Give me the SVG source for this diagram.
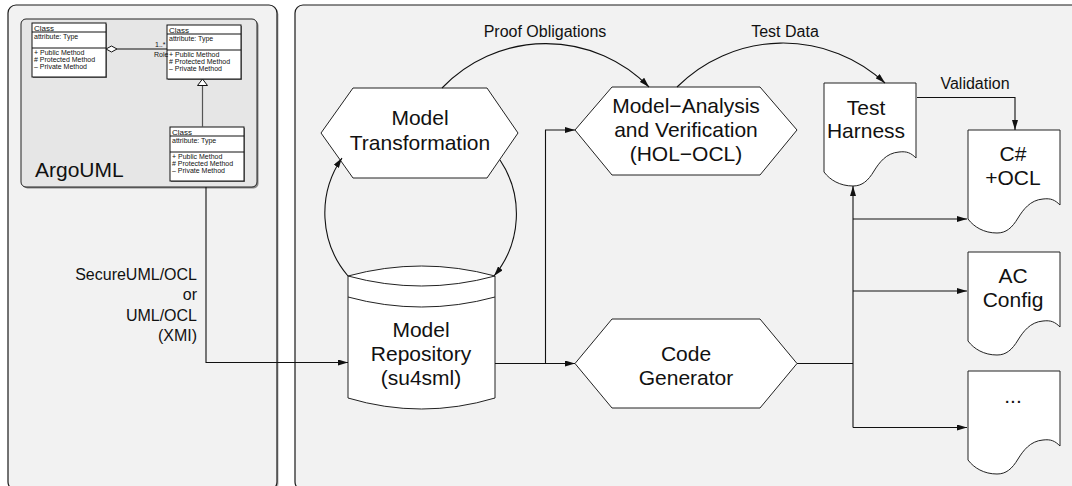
<svg xmlns="http://www.w3.org/2000/svg" width="1072" height="486" viewBox="0 0 1072 486">
<style>
text{font-family:"Liberation Sans",Arial,sans-serif;fill:#111}
.panel{fill:#f2f2f2;stroke:#1a1a1a;stroke-width:1.2}
.shadow{fill:#b0b0b0}
.node{fill:#fff;stroke:#222;stroke-width:1}
.lbl{font-size:21px;text-anchor:middle}
.el{font-size:16px;text-anchor:middle}
.con{fill:none;stroke:#111;stroke-width:1.1}
.uml{fill:#fff;stroke:#111;stroke-width:1}
.ut{font-size:8px}
.us{font-size:7px}
</style>
<defs>
<marker id="arr" viewBox="0 0 10 6" refX="10" refY="3" markerWidth="10" markerHeight="6" markerUnits="userSpaceOnUse" orient="auto">
<path d="M0,0 L10,3 L0,6 Z" fill="#111"/>
</marker>
<path id="doc" d="M0,0 H92 V75 C87,70 83,68 75,69 C62,70 55,80 50,88 C44,98 38,103 29,103 C16,103 6,97 0,89 Z"/>
<g id="umlclass">
<rect x="1" y="1" width="74" height="54" fill="#777"/>
<rect class="uml" x="0" y="0" width="74" height="54"/>
<line x1="0" y1="9" x2="74" y2="9" stroke="#111"/>
<line x1="0" y1="25" x2="74" y2="25" stroke="#111"/>
<text class="ut" x="2" y="7.5">Class</text>
<text class="us" x="2" y="16">attribute: Type</text>
<text class="us" x="2" y="31.5">+ Public Method</text>
<text class="us" x="2" y="38.5"># Protected Method</text>
<text class="us" x="2" y="45.5">– Private Method</text>
</g>
</defs>

<rect width="1072" height="486" fill="#fff"/>

<g id="left-panel">
<rect class="shadow" x="9.5" y="6.5" width="269" height="485" rx="8"/>
<rect class="panel" x="8" y="5" width="269" height="485" rx="8"/>
</g>
<g id="right-panel">
<rect class="shadow" x="296.5" y="6.5" width="790" height="485" rx="8"/>
<rect class="panel" x="295" y="5" width="790" height="485" rx="8"/>
</g>

<g id="argouml">
<rect x="22.5" y="20.5" width="236" height="168" rx="5" fill="#888"/>
<rect x="21" y="19" width="236" height="168" rx="5" fill="#e6e6e6" stroke="#222" stroke-width="1"/>
<use href="#umlclass" x="32" y="23"/>
<use href="#umlclass" x="167" y="25"/>
<use href="#umlclass" x="170" y="127"/>
<line x1="117" y1="49" x2="167" y2="49" stroke="#111"/>
<path d="M106,49 L111.5,46 L117,49 L111.5,52 Z" fill="#fff" stroke="#111"/>
<text class="us" x="155" y="47">1..*</text>
<text class="us" x="154" y="57">Role</text>
<line x1="202.5" y1="85" x2="202.5" y2="127" stroke="#555" stroke-width="1.2"/>
<path d="M202.5,79 L207.5,85.5 L197.5,85.5 Z" fill="#fff" stroke="#111"/>
<text x="35" y="177" font-size="21">ArgoUML</text>
</g>

<g id="model-transformation">
<polygon class="node" points="321,133 353,88 487,88 518,133 487,178 353,178"/>
<text class="lbl" x="420" y="125">Model</text>
<text class="lbl" x="420" y="150">Transformation</text>
</g>

<g id="model-analysis">
<polygon class="node" points="575,130 612,87 760,87 797,130 760,175 612,175"/>
<text class="lbl" x="686" y="113">Model−Analysis</text>
<text class="lbl" x="686" y="137">and Verification</text>
<text class="lbl" x="686" y="161">(HOL−OCL)</text>
</g>

<g id="code-generator">
<polygon class="node" points="575,363.5 612,319 760,319 797,363.5 760,408 612,408"/>
<text class="lbl" x="686" y="361">Code</text>
<text class="lbl" x="686" y="385">Generator</text>
</g>

<g id="model-repository">
<path class="node" d="M348,276 V398 Q421.5,420 495,398 V276 Q421.5,256 348,276 Z"/>
<path fill="none" stroke="#222" d="M348,276 Q421.5,296 495,276"/>
<path fill="none" stroke="#222" d="M348,297 Q421.5,317 495,297"/>
<text class="lbl" x="421" y="337">Model</text>
<text class="lbl" x="421" y="361">Repository</text>
<text class="lbl" x="421" y="385">(su4sml)</text>
</g>

<g id="test-harness">
<use href="#doc" x="824" y="83" class="node"/>
<text class="lbl" x="866" y="115">Test</text>
<text class="lbl" x="866" y="138">Harness</text>
</g>

<g id="csharp-ocl">
<use href="#doc" x="968" y="130" class="node"/>
<text class="lbl" x="1013" y="161">C#</text>
<text class="lbl" x="1013" y="185">+OCL</text>
</g>

<g id="ac-config">
<use href="#doc" x="968" y="252" class="node"/>
<text class="lbl" x="1013" y="283">AC</text>
<text class="lbl" x="1013" y="307">Config</text>
</g>

<g id="other-output">
<use href="#doc" x="968" y="371" class="node"/>
<text class="lbl" x="1013" y="403">...</text>
</g>

<g id="connectors">
<path class="con" d="M206,187 V362.5 H348" marker-end="url(#arr)"/>
<path class="con" d="M495,363.5 H575" marker-end="url(#arr)"/>
<path class="con" d="M545.5,363.5 V130 H575" marker-end="url(#arr)"/>
<path class="con" d="M348,276 A97,97 0 0,1 342,158" marker-end="url(#arr)"/>
<path class="con" d="M500,160 A97,97 0 0,1 494,276" marker-end="url(#arr)"/>
<path class="con" d="M442,88 A144,144 0 0,1 649,87" marker-end="url(#arr)"/>
<path class="con" d="M677,87 A150,150 0 0,1 885,83" marker-end="url(#arr)"/>
<path class="con" d="M917,97.5 H1015 V130" marker-end="url(#arr)"/>
<path class="con" d="M797,363.5 H853" stroke-width="1.6"/>
<path class="con" d="M853,427.5 V186" marker-end="url(#arr)"/>
<path class="con" d="M853,219 H967" marker-end="url(#arr)"/>
<path class="con" d="M853,291 H967" marker-end="url(#arr)"/>
<path class="con" d="M853,427.5 H967" marker-end="url(#arr)"/>
</g>

<g id="labels">
<text class="el" x="545" y="37">Proof Obligations</text>
<text class="el" x="785" y="37">Test Data</text>
<text class="el" x="975" y="89">Validation</text>
<g font-size="16" text-anchor="end">
<text x="197" y="280">SecureUML/OCL</text>
<text x="197" y="300">or</text>
<text x="197" y="321">UML/OCL</text>
<text x="197" y="341">(XMI)</text>
</g>
</g>
</svg>
